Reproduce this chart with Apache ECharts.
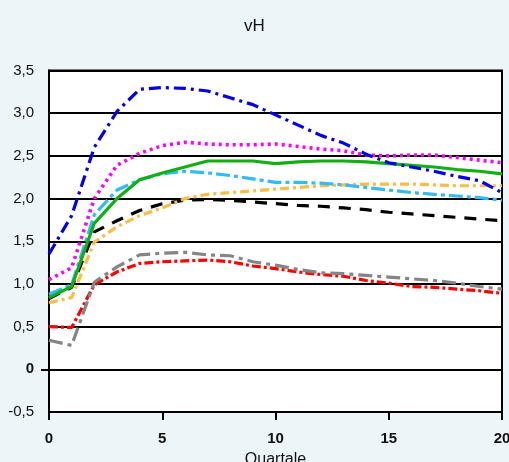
<!DOCTYPE html>
<html><head><meta charset="utf-8">
<script src="https://cdn.jsdelivr.net/npm/echarts@6/dist/echarts.min.js"></script>
<style>html,body{margin:0;padding:0;background:#EDF5F8}#c{width:509px;height:462px}</style>
</head><body><div id="c"></div>
<script>
var quarters = [0,1,2,3,4,5,6,7,8,9,10,11,12,13,14,15,16,17,18,19,20];
var zeroTick = [0];
var blue    = [1.35,1.80,2.60,3.02,3.28,3.30,3.29,3.26,3.18,3.10,2.98,2.86,2.74,2.65,2.52,2.42,2.37,2.32,2.26,2.21,2.07];
var magenta = [1.05,1.19,2.00,2.39,2.53,2.62,2.66,2.64,2.63,2.63,2.64,2.61,2.58,2.56,2.51,2.50,2.51,2.51,2.48,2.45,2.42];
var green   = [0.84,0.97,1.71,2.00,2.22,2.30,2.37,2.44,2.44,2.44,2.41,2.43,2.44,2.44,2.43,2.41,2.39,2.37,2.34,2.32,2.29];
var lightBlue=[0.88,0.99,1.81,2.10,2.22,2.29,2.32,2.30,2.27,2.23,2.19,2.19,2.18,2.16,2.13,2.10,2.07,2.05,2.03,2.01,1.98];
var orange  = [0.78,0.84,1.49,1.67,1.80,1.89,2.00,2.05,2.07,2.09,2.11,2.13,2.15,2.16,2.17,2.17,2.17,2.16,2.15,2.15,2.15];
var black   = [0.83,0.96,1.61,1.74,1.86,1.94,1.98,1.99,1.98,1.96,1.94,1.92,1.91,1.89,1.87,1.84,1.82,1.80,1.78,1.76,1.74];
var gray    = [0.34,0.28,1.02,1.20,1.34,1.36,1.37,1.34,1.33,1.26,1.22,1.17,1.13,1.12,1.10,1.08,1.06,1.04,1.01,0.97,0.94];
var red     = [0.50,0.49,0.99,1.14,1.24,1.26,1.27,1.28,1.26,1.21,1.18,1.14,1.11,1.09,1.04,1.01,0.97,0.96,0.94,0.92,0.89];

var FONT = 'Liberation Sans, Arial, sans-serif';
function mk(data, color, type, width){
  return {type:'line', data: quarters.map(function(q,i){return [q,data[i]];}),
    symbol:'none', smooth:false, animation:false, z:3, yAxisIndex:0,
    lineStyle:{color:color, type:type, width:width||3.2, cap:'butt'}};
}
var chart = echarts.init(document.getElementById('c'), null, {renderer:'canvas'});
chart.setOption({
  backgroundColor:'#EDF5F8',
  animation:false,
  title:{text:'vH', left:'center', top:13, textStyle:{fontFamily:FONT, fontSize:17, fontWeight:'normal', color:'#111'}},
  grid:{left:49, right:7, top:70.5, bottom:50, show:true, z:-1, outerBoundsMode:'none', containLabel:false,
    backgroundColor:'#fff', borderColor:'#000', borderWidth:2},
  xAxis:{type:'value', min:0, max:20, interval:5, z:2,
    name:'Quartale', nameLocation:'middle', nameGap:40,
    nameTextStyle:{fontFamily:FONT, fontSize:16, color:'#111'},
    axisLine:{show:true, onZero:false, lineStyle:{color:'#000', width:2}},
    axisTick:{show:true, length:8, lineStyle:{color:'#000', width:2}},
    axisLabel:{margin:19, fontFamily:FONT, fontSize:15, fontWeight:'bold', color:'#111'},
    splitLine:{show:false}},
  yAxis:[{type:'value', min:-0.5, max:3.5, interval:0.5, z:2,
    axisLine:{show:true, onZero:false, lineStyle:{color:'#000', width:2}},
    axisTick:{show:true, length:8, lineStyle:{color:'#000', width:2}, customValues: zeroTick},
    axisLabel:{margin:15, fontFamily:FONT, fontSize:15, color:'#111',
      formatter:function(v){ if (Math.abs(v)<1e-9) return '{b|0}'; return v.toFixed(1).replace('.',','); },
      rich:{b:{fontWeight:'bold', fontFamily:FONT, fontSize:15, color:'#111'}}},
    splitLine:{show:false}},
   {type:'value', min:-0.5, max:3.5, interval:0.5, z:1, position:'left', offset:0,
    axisLine:{show:false, onZero:false}, axisTick:{show:false}, axisLabel:{show:false},
    splitLine:{show:true, lineStyle:{color:'#000', width:2}}}],
  series:[
    mk(red, '#FF0000', [9,3,3,3], 3.2),
    mk(gray, '#858585', [14,5,4,5], 3.2),
    mk(black, '#000000', [12,9], 3.2),
    mk(orange, '#FFBB44', [9,4,3,4], 3.2),
    mk(lightBlue, '#33BBF5', [14,4,4,4], 3.2),
    mk(green, '#11B011', 'solid', 3.2),
    mk(magenta, '#FF00FF', [3,4], 3.6),
    mk(blue, '#0000EE', [12,5,3,5], 3.2)
  ]
});
</script></body></html>
